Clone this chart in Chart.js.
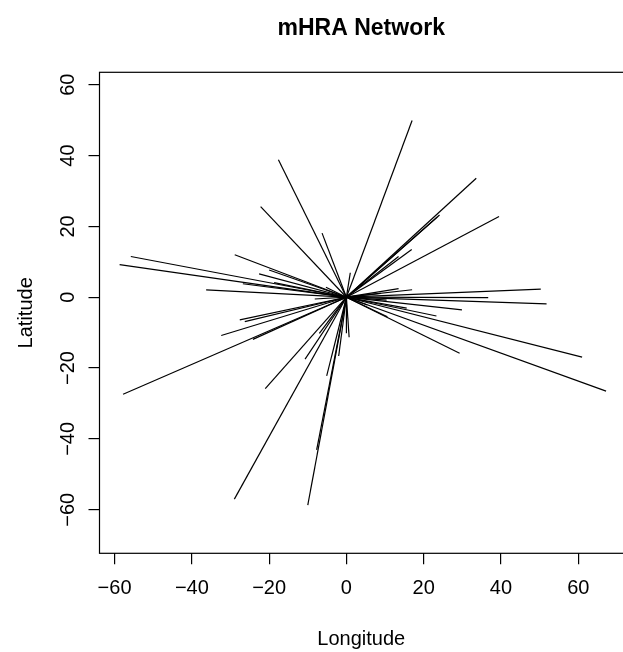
<!DOCTYPE html>
<html lang="en">
<head>
<meta charset="UTF-8">
<title>mHRA Network</title>
<script src="https://cdn.jsdelivr.net/npm/chart.js@4.4.0/dist/chart.umd.min.js"></script>
<style>
    html, body { margin: 0; padding: 0; background: #fff; }
    #wrap { width: 623px; height: 652px; }
</style>
</head>
<body>
<div id="wrap"><canvas id="net" width="623" height="652"></canvas></div>
<script>
// hub at the origin, every link goes hub -> end point
const hubLon = 0;
const hubLat = 0;

const endLon = [17.0, -17.6, -22.2, -6.3, 33.6, 39.5, 24.1, 23.5, 16.9, 13.5,
    1.0, -55.8, -58.7, -28.9, -22.6, -20.0, -26.8, -36.3, 50.3, 36.7,
    51.8, 17.0, 13.5, -8.2, 29.9, 23.3, 29.3, 61.0, 67.2, 10.6,
    -27.6, -26.3, -32.4, -24.2, -57.8, -21.0, -10.7, -7.0, -5.1, -2.0,
    0.7, 0.0, -29.0, -10.0, -7.7, -5.3, -18.7, 8.9, 10.4, 5.4,
    15.6];
const endLat = [49.9, 38.8, 25.6, 18.1, 33.6, 22.8, 23.2, 22.6, 13.5, 11.5,
    6.9, 11.5, 9.2, 12.0, 6.6, 7.7, 3.8, 2.1, 2.3, -0.1,
    -1.9, 2.1, 2.4, -0.5, -3.6, -5.3, -15.8, -16.9, -26.5, -5.5,
    -6.4, -6.9, -10.8, -11.9, -27.4, -25.8, -17.5, -10.2, -22.2, -16.6,
    -11.3, -10.2, -57.0, -58.7, -43.1, 2.8, 4.1, 1.1, -0.8, -2.2,
    -3.1];

const xTicks = [-60, -40, -20, 0, 20, 40, 60];
const yTicks = [-60, -40, -20, 0, 20, 40, 60];

const FONT = '"Liberation Sans", Arial, Helvetica, sans-serif';
const fmt = v => (v < 0 ? '\u2212' + Math.abs(v) : String(v));

const datasets = endLon.map((lon, i) => ({
    data: [{ x: hubLon, y: hubLat }, { x: lon, y: endLat[i] }],
    showLine: true,
    borderColor: '#000',
    borderWidth: 1.2,
    pointRadius: 0
}));

// box around the plot region (right side runs off the page) and rotated y tick labels
const frame = {
    id: 'frame',
    afterDraw(chart) {
        const { ctx, chartArea: a, scales: { y } } = chart;
        ctx.save();
        ctx.strokeStyle = '#000';
        ctx.lineWidth = 1.2;
        ctx.strokeRect(a.left, a.top, a.right - a.left + 4, a.bottom - a.top);
        ctx.fillStyle = '#000';
        ctx.font = '20px ' + FONT;
        ctx.textAlign = 'center';
        ctx.textBaseline = 'middle';
        y.ticks.forEach(t => {
            const py = y.getPixelForValue(t.value);
            ctx.save();
            ctx.translate(68, py);
            ctx.rotate(-Math.PI / 2);
            ctx.fillText(fmt(t.value), 0, 0);
            ctx.restore();
        });
        ctx.restore();
    }
};

new Chart(document.getElementById('net'), {
    type: 'scatter',
    data: { datasets },
    plugins: [frame],
    options: {
        responsive: false,
        animation: false,
        layout: { padding: 0 },
        plugins: {
            legend: { display: false },
            tooltip: { enabled: false },
            title: {
                display: true,
                text: 'mHRA Network',
                fullSize: false,
                color: '#000',
                font: { family: FONT, size: 23, weight: 'bold' },
                padding: { top: 15.2, bottom: 29.5 }
            }
        },
        scales: {
            x: {
                type: 'linear',
                min: -63.9,
                max: 71.58,
                afterBuildTicks: s => { s.ticks = xTicks.map(v => ({ value: v })); },
                afterFit: s => { s.height = 98.7; },
                border: { display: false },
                grid: { drawOnChartArea: false, drawTicks: true, tickLength: 11, color: '#000', lineWidth: 1.2 },
                ticks: { color: '#000', font: { family: FONT, size: 20 }, padding: 12.5, maxRotation: 0, callback: v => fmt(v) },
                title: { display: true, text: 'Longitude', color: '#000', font: { family: FONT, size: 20 }, padding: { top: 0, bottom: 1 } }
            },
            y: {
                type: 'linear',
                min: -72.3,
                max: 63.5,
                afterBuildTicks: s => { s.ticks = yTicks.map(v => ({ value: v })); },
                afterFit: s => { s.width = 99.5; },
                border: { display: false },
                grid: { drawOnChartArea: false, drawTicks: true, tickLength: 11, color: '#000', lineWidth: 1.2 },
                ticks: { display: false },
                title: { display: true, text: 'Latitude', color: '#000', font: { family: FONT, size: 20 }, padding: { top: 14, bottom: 0 } }
            }
        }
    }
});
</script>
</body>
</html>
